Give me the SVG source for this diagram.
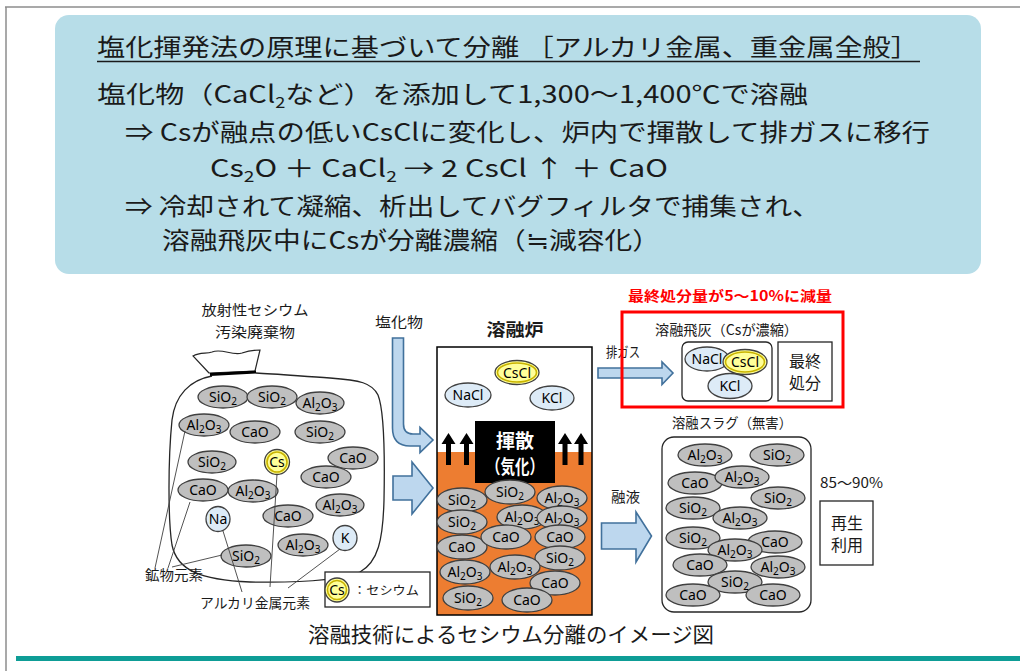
<svg xmlns="http://www.w3.org/2000/svg" width="1020" height="671" viewBox="0 0 1020 671">
<style>
  .jp { font-family: "Noto Sans CJK JP", "Noto Sans", sans-serif; fill: #1a1a1a; }
  .head { font-size: 24px; }
  .sub24 { font-size: 15px; }
  .lbl { font-size: 14px; }
  .f { font-family: "Noto Sans", "Liberation Sans", sans-serif; font-size: 14px; fill: #000; text-anchor: middle; }
  .sb { font-size: 10px; }
  .gr { fill: #BFBFBF; stroke: #404040; stroke-width: 1.3; }
  .lb { fill: #DDEBF7; stroke: #404040; stroke-width: 1.3; }
  .yl { fill: #FFFF99; stroke: #404040; stroke-width: 1.3; }
  .ylr { fill: none; stroke: #C9B400; stroke-width: 1.6; }
  .blu { fill: #BDD7EE; stroke: #41719C; stroke-width: 1.6; stroke-linejoin: miter; }
  .box { fill: #fff; stroke: #262626; stroke-width: 1.3; }
  .lead { stroke: #404040; stroke-width: 0.9; fill: none; }
  .c { text-anchor: middle; }
</style>

<!-- page frame -->
<g id="frame">
  <line x1="5" y1="7" x2="1020" y2="7" stroke="#8c8c8c" stroke-width="1.5"/>
  <line x1="6" y1="7" x2="6" y2="671" stroke="#8c8c8c" stroke-width="1.5"/>
  <rect x="16" y="656" width="1004" height="5" fill="#0E9D96"/>
</g>

<!-- principle summary panel -->
<g id="summary">
  <rect x="55" y="15" width="926" height="259" rx="14" fill="#B7DDE8"/>
  <text class="jp head" x="97" y="56" textLength="822" lengthAdjust="spacingAndGlyphs">塩化揮発法の原理に基づいて分離 ［アルカリ金属、重金属全般］</text>
  <line x1="97" y1="61.5" x2="920" y2="61.5" stroke="#1a1a1a" stroke-width="1.6"/>
  <text class="jp head" x="97" y="103" textLength="711" lengthAdjust="spacingAndGlyphs">塩化物（CaCl<tspan class="sub24" dy="5">2</tspan><tspan dy="-5">など）を添加して1,300～1,400℃で溶融</tspan></text>
  <text class="jp head" x="125" y="141" textLength="805" lengthAdjust="spacingAndGlyphs">⇒ Csが融点の低いCsClに変化し、炉内で揮散して排ガスに移行</text>
  <text class="jp head" x="210" y="177" textLength="458" lengthAdjust="spacingAndGlyphs">Cs<tspan class="sub24" dy="5">2</tspan><tspan dy="-5">O ＋ CaCl</tspan><tspan class="sub24" dy="5">2</tspan><tspan dy="-5"> → 2 CsCl ↑ ＋ CaO</tspan></text>
  <text class="jp head" x="125" y="215" textLength="695" lengthAdjust="spacingAndGlyphs">⇒ 冷却されて凝縮、析出してバグフィルタで捕集され、</text>
  <text class="jp head" x="162" y="249" textLength="498" lengthAdjust="spacingAndGlyphs">溶融飛灰中にCsが分離濃縮（≒減容化）</text>
</g>

<!-- contaminated waste bag -->
<g id="waste-bag">
  <text class="jp lbl c" x="255" y="315" textLength="107" lengthAdjust="spacingAndGlyphs">放射性セシウム</text>
  <text class="jp lbl c" x="255" y="337" textLength="80" lengthAdjust="spacingAndGlyphs">汚染廃棄物</text>
  <path d="M209,373 L193,356 C200,352 206,354 212,352 C222,348 232,356 242,353 C250,350 255,350 260,350 L255,371 Z" fill="#fff" stroke="#262626" stroke-width="1.2"/>
  <path d="M212,376 C190,380 175,395 172,420 C168,460 168,520 172,545 C177,570 200,580 250,582 C300,583 340,580 360,572 C378,562 383,540 384,500 C385,450 384,410 378,395 C372,383 360,380 330,378 C300,376 275,374 256,373" fill="none" stroke="#262626" stroke-width="1.3"/>
  <line x1="210" y1="374.5" x2="256" y2="372" stroke="#000" stroke-width="3.2"/>

  <ellipse class="gr" cx="223" cy="397" rx="25" ry="11"/>
  <text class="f" x="223" y="401.5">SiO<tspan class="sb" dy="3">2</tspan></text>
  <ellipse class="gr" cx="272" cy="397" rx="25" ry="11"/>
  <text class="f" x="272" y="401.5">SiO<tspan class="sb" dy="3">2</tspan></text>
  <ellipse class="gr" cx="320" cy="403" rx="24" ry="11"/>
  <text class="f" x="320" y="407.5">Al<tspan class="sb" dy="3">2</tspan><tspan dy="-3">O</tspan><tspan class="sb" dy="3">3</tspan></text>
  <ellipse class="gr" cx="204" cy="425" rx="25" ry="11"/>
  <text class="f" x="204" y="429.5">Al<tspan class="sb" dy="3">2</tspan><tspan dy="-3">O</tspan><tspan class="sb" dy="3">3</tspan></text>
  <ellipse class="gr" cx="255" cy="432" rx="25" ry="11"/>
  <text class="f" x="255" y="436.5">CaO</text>
  <ellipse class="gr" cx="320" cy="432" rx="25" ry="11"/>
  <text class="f" x="320" y="436.5">SiO<tspan class="sb" dy="3">2</tspan></text>
  <ellipse class="gr" cx="212" cy="462" rx="24" ry="11"/>
  <text class="f" x="212" y="466.5">SiO<tspan class="sb" dy="3">2</tspan></text>
  <ellipse class="gr" cx="353" cy="458" rx="25" ry="11"/>
  <text class="f" x="353" y="462.5">CaO</text>
  <ellipse class="gr" cx="326" cy="477" rx="25" ry="11"/>
  <text class="f" x="326" y="481.5">CaO</text>
  <ellipse class="gr" cx="253" cy="491" rx="25" ry="11"/>
  <text class="f" x="253" y="495.5">Al<tspan class="sb" dy="3">2</tspan><tspan dy="-3">O</tspan><tspan class="sb" dy="3">3</tspan></text>
  <ellipse class="gr" cx="203" cy="490" rx="25" ry="11"/>
  <text class="f" x="203" y="494.5">CaO</text>
  <ellipse class="gr" cx="340" cy="505" rx="24" ry="11"/>
  <text class="f" x="340" y="509.5">Al<tspan class="sb" dy="3">2</tspan><tspan dy="-3">O</tspan><tspan class="sb" dy="3">3</tspan></text>
  <ellipse class="gr" cx="288" cy="516" rx="25" ry="11"/>
  <text class="f" x="288" y="520.5">CaO</text>
  <ellipse class="gr" cx="303" cy="545" rx="25" ry="11"/>
  <text class="f" x="303" y="549.5">Al<tspan class="sb" dy="3">2</tspan><tspan dy="-3">O</tspan><tspan class="sb" dy="3">3</tspan></text>
  <ellipse class="gr" cx="246" cy="556" rx="25" ry="11"/>
  <text class="f" x="246" y="560.5">SiO<tspan class="sb" dy="3">2</tspan></text>

  <circle class="yl" cx="277" cy="462" r="12.5"/>
  <circle class="ylr" cx="277" cy="462" r="10"/>
  <text class="f" x="277" y="466.5">Cs</text>
  <ellipse class="lb" cx="218" cy="519" rx="12" ry="12.5"/>
  <text class="f" x="218" y="523.5">Na</text>
  <ellipse class="lb" cx="345" cy="538" rx="12" ry="12.5"/>
  <text class="f" x="345" y="542.5">K</text>

  <!-- leader lines -->
  <line class="lead" x1="155" y1="568" x2="185" y2="431"/>
  <line class="lead" x1="168" y1="568" x2="190" y2="502"/>
  <line class="lead" x1="172" y1="567" x2="222" y2="555"/>
  <line class="lead" x1="242" y1="592" x2="223" y2="531"/>
  <line class="lead" x1="270" y1="587" x2="277" y2="474"/>
  <line class="lead" x1="288" y1="588" x2="340" y2="549"/>
  <text class="jp lbl" x="145" y="580" textLength="58" lengthAdjust="spacingAndGlyphs">鉱物元素</text>
  <text class="jp lbl" x="200" y="608" textLength="110" lengthAdjust="spacingAndGlyphs">アルカリ金属元素</text>
</g>

<!-- legend -->
<g id="legend">
  <rect class="box" x="325" y="572" width="105" height="35"/>
  <circle class="yl" cx="337" cy="590" r="12"/>
  <circle class="ylr" cx="337" cy="590" r="9.5"/>
  <text class="f" x="337" y="594.5">Cs</text>
  <text class="jp" x="353" y="595" font-size="12" textLength="66" lengthAdjust="spacingAndGlyphs">：セシウム</text>
</g>

<!-- feed arrows -->
<g id="connectors">
  <text class="jp lbl c" x="399" y="327" textLength="48" lengthAdjust="spacingAndGlyphs">塩化物</text>
  <path class="blu" d="M392.5,338 L403.5,338 L403.5,424 Q403.5,434 413,434 L420,434 L420,427.5 L433,440 L420,452.5 L420,446 L410,446 Q392.5,446 392.5,428 Z"/>
  <path class="blu" d="M393,476 L412,476 L412,462 L433,488 L412,514 L412,500 L393,500 Z"/>
  <text class="jp lbl" x="606" y="357" textLength="34" lengthAdjust="spacingAndGlyphs">排ガス</text>
  <path class="blu" d="M598,368 L662,368 L662,362 L673,373 L662,384.5 L662,378 L598,378 Z"/>
  <text class="jp lbl" x="611" y="502" textLength="29" lengthAdjust="spacingAndGlyphs">融液</text>
  <path class="blu" d="M601.5,523 L636,523 L636,512 L651.5,536 L636,562 L636,549 L601.5,549 Z"/>
</g>

<!-- melting furnace -->
<g id="furnace">
  <text class="jp c" x="515" y="336" font-size="17" font-weight="bold" textLength="57" lengthAdjust="spacingAndGlyphs">溶融炉</text>
  <rect x="437" y="347" width="155" height="268" fill="#fff"/>
  <rect x="437" y="452" width="155" height="163" fill="#ED7D31"/>
  <rect x="437" y="347" width="155" height="268" fill="none" stroke="#000" stroke-width="1.5"/>

  <ellipse class="yl" cx="517" cy="372.5" rx="22" ry="12"/>
  <ellipse class="ylr" cx="517" cy="372.5" rx="19.5" ry="9.5"/>
  <text class="f" x="517" y="377.5">CsCl</text>
  <ellipse class="lb" cx="468" cy="395" rx="23" ry="12"/>
  <text class="f" x="468" y="400">NaCl</text>
  <ellipse class="lb" cx="552" cy="398" rx="22" ry="12"/>
  <text class="f" x="552" y="403">KCl</text>

  <rect x="475" y="421" width="80" height="62" fill="#000"/>
  <text class="jp c" x="515" y="448" font-size="19" font-weight="bold" style="fill:#fff">揮散</text>
  <text class="jp c" x="515" y="474" font-size="19" font-weight="bold" style="fill:#fff" textLength="58" lengthAdjust="spacingAndGlyphs">（気化）</text>

  <polygon points="448.5,433 455.5,444 451,444 451,465 446,465 446,444 441.5,444" fill="#000"/>
  <polygon points="466.5,433 473.5,444 469,444 469,465 464,465 464,444 459.5,444" fill="#000"/>
  <polygon points="565,433 572,444 567.5,444 567.5,465 562.5,465 562.5,444 558,444" fill="#000"/>
  <polygon points="581,433 588,444 583.5,444 583.5,465 578.5,465 578.5,444 574,444" fill="#000"/>

  <ellipse class="gr" cx="562" cy="498" rx="25" ry="12"/>
  <text class="f" x="562" y="502.5">Al<tspan class="sb" dy="3">2</tspan><tspan dy="-3">O</tspan><tspan class="sb" dy="3">3</tspan></text>
  <ellipse class="gr" cx="510" cy="492" rx="25" ry="12"/>
  <text class="f" x="510" y="496.5">SiO<tspan class="sb" dy="3">2</tspan></text>
  <ellipse class="gr" cx="462" cy="500" rx="25" ry="12"/>
  <text class="f" x="462" y="504.5">SiO<tspan class="sb" dy="3">2</tspan></text>
  <ellipse class="gr" cx="522" cy="517" rx="25" ry="12"/>
  <text class="f" x="522" y="521.5">Al<tspan class="sb" dy="3">2</tspan><tspan dy="-3">O</tspan><tspan class="sb" dy="3">3</tspan></text>
  <ellipse class="gr" cx="562" cy="518" rx="25" ry="12"/>
  <text class="f" x="562" y="522.5">Al<tspan class="sb" dy="3">2</tspan><tspan dy="-3">O</tspan><tspan class="sb" dy="3">3</tspan></text>
  <ellipse class="gr" cx="462" cy="522" rx="25" ry="12"/>
  <text class="f" x="462" y="526.5">SiO<tspan class="sb" dy="3">2</tspan></text>
  <ellipse class="gr" cx="560" cy="537" rx="25" ry="12"/>
  <text class="f" x="560" y="541.5">CaO</text>
  <ellipse class="gr" cx="462" cy="547" rx="25" ry="12"/>
  <text class="f" x="462" y="551.5">CaO</text>
  <ellipse class="gr" cx="506" cy="537" rx="25" ry="12"/>
  <text class="f" x="506" y="541.5">CaO</text>
  <ellipse class="gr" cx="560" cy="558" rx="25" ry="12"/>
  <text class="f" x="560" y="562.5">SiO<tspan class="sb" dy="3">2</tspan></text>
  <ellipse class="gr" cx="515" cy="567" rx="25" ry="12"/>
  <text class="f" x="515" y="571.5">Al<tspan class="sb" dy="3">2</tspan><tspan dy="-3">O</tspan><tspan class="sb" dy="3">3</tspan></text>
  <ellipse class="gr" cx="465" cy="572" rx="25" ry="12"/>
  <text class="f" x="465" y="576.5">Al<tspan class="sb" dy="3">2</tspan><tspan dy="-3">O</tspan><tspan class="sb" dy="3">3</tspan></text>
  <ellipse class="gr" cx="555" cy="583" rx="25" ry="12"/>
  <text class="f" x="555" y="587.5">CaO</text>
  <ellipse class="gr" cx="468" cy="598" rx="25" ry="12"/>
  <text class="f" x="468" y="602.5">SiO<tspan class="sb" dy="3">2</tspan></text>
  <ellipse class="gr" cx="527" cy="600" rx="25" ry="12"/>
  <text class="f" x="527" y="604.5">CaO</text>
</g>

<!-- molten fly ash -->
<g id="fly-ash">
  <text class="jp" x="628" y="301" font-size="14" font-weight="bold" style="fill:#FF0000" textLength="204" lengthAdjust="spacingAndGlyphs">最終処分量が5～10%に減量</text>
  <rect x="622" y="312" width="221" height="95" fill="none" stroke="#FF0000" stroke-width="3"/>
  <text class="jp lbl" x="655" y="335" textLength="143" lengthAdjust="spacingAndGlyphs">溶融飛灰（Csが濃縮）</text>
  <rect class="box" x="682" y="342" width="90" height="59" rx="6"/>
  <ellipse class="lb" cx="707" cy="359" rx="22" ry="12"/>
  <text class="f" x="707" y="364">NaCl</text>
  <ellipse class="yl" cx="745" cy="362" rx="22" ry="12.5"/>
  <ellipse class="ylr" cx="745" cy="362" rx="19.5" ry="10"/>
  <text class="f" x="745" y="367">CsCl</text>
  <ellipse class="lb" cx="730" cy="386" rx="22" ry="12.5"/>
  <text class="f" x="730" y="391">KCl</text>
  <rect class="box" x="778" y="342" width="54" height="59"/>
  <text class="jp c" x="805" y="367" font-size="16">最終</text>
  <text class="jp c" x="805" y="389" font-size="16">処分</text>
</g>

<!-- molten slag -->
<g id="slag">
  <text class="jp lbl" x="672" y="428" textLength="120" lengthAdjust="spacingAndGlyphs">溶融スラグ（無害）</text>
  <rect class="box" x="662" y="437" width="149" height="175" rx="12"/>
  <ellipse class="gr" cx="705" cy="455" rx="27" ry="11"/>
  <text class="f" x="705" y="459.5">Al<tspan class="sb" dy="3">2</tspan><tspan dy="-3">O</tspan><tspan class="sb" dy="3">3</tspan></text>
  <ellipse class="gr" cx="777" cy="455" rx="27" ry="11"/>
  <text class="f" x="777" y="459.5">SiO<tspan class="sb" dy="3">2</tspan></text>
  <ellipse class="gr" cx="695" cy="483" rx="27" ry="11"/>
  <text class="f" x="695" y="487.5">CaO</text>
  <ellipse class="gr" cx="742" cy="477" rx="27" ry="11"/>
  <text class="f" x="742" y="481.5">Al<tspan class="sb" dy="3">2</tspan><tspan dy="-3">O</tspan><tspan class="sb" dy="3">3</tspan></text>
  <ellipse class="gr" cx="778" cy="498" rx="27" ry="11"/>
  <text class="f" x="778" y="502.5">SiO<tspan class="sb" dy="3">2</tspan></text>
  <ellipse class="gr" cx="693" cy="508" rx="27" ry="11"/>
  <text class="f" x="693" y="512.5">SiO<tspan class="sb" dy="3">2</tspan></text>
  <ellipse class="gr" cx="740" cy="518" rx="27" ry="11"/>
  <text class="f" x="740" y="522.5">Al<tspan class="sb" dy="3">2</tspan><tspan dy="-3">O</tspan><tspan class="sb" dy="3">3</tspan></text>
  <ellipse class="gr" cx="693" cy="538" rx="27" ry="11"/>
  <text class="f" x="693" y="542.5">SiO<tspan class="sb" dy="3">2</tspan></text>
  <ellipse class="gr" cx="775" cy="542" rx="27" ry="11"/>
  <text class="f" x="775" y="546.5">CaO</text>
  <ellipse class="gr" cx="735" cy="550" rx="27" ry="11"/>
  <text class="f" x="735" y="554.5">Al<tspan class="sb" dy="3">2</tspan><tspan dy="-3">O</tspan><tspan class="sb" dy="3">3</tspan></text>
  <ellipse class="gr" cx="700" cy="565" rx="27" ry="11"/>
  <text class="f" x="700" y="569.5">CaO</text>
  <ellipse class="gr" cx="778" cy="567" rx="27" ry="11"/>
  <text class="f" x="778" y="571.5">Al<tspan class="sb" dy="3">2</tspan><tspan dy="-3">O</tspan><tspan class="sb" dy="3">3</tspan></text>
  <ellipse class="gr" cx="735" cy="582" rx="27" ry="11"/>
  <text class="f" x="735" y="586.5">SiO<tspan class="sb" dy="3">2</tspan></text>
  <ellipse class="gr" cx="693" cy="595" rx="27" ry="11"/>
  <text class="f" x="693" y="599.5">CaO</text>
  <ellipse class="gr" cx="773" cy="595" rx="27" ry="11"/>
  <text class="f" x="773" y="599.5">CaO</text>
</g>

<!-- recycling -->
<g id="recycle">
  <text class="jp lbl" x="820" y="488" textLength="63" lengthAdjust="spacingAndGlyphs">85～90%</text>
  <rect class="box" x="820" y="501" width="53" height="64"/>
  <text class="jp c" x="847" y="529" font-size="16">再生</text>
  <text class="jp c" x="847" y="551" font-size="16">利用</text>
</g>

<!-- caption -->
<g id="caption">
  <text class="jp" x="308" y="642" font-size="21" textLength="406" lengthAdjust="spacingAndGlyphs">溶融技術によるセシウム分離のイメージ図</text>
</g>
</svg>
